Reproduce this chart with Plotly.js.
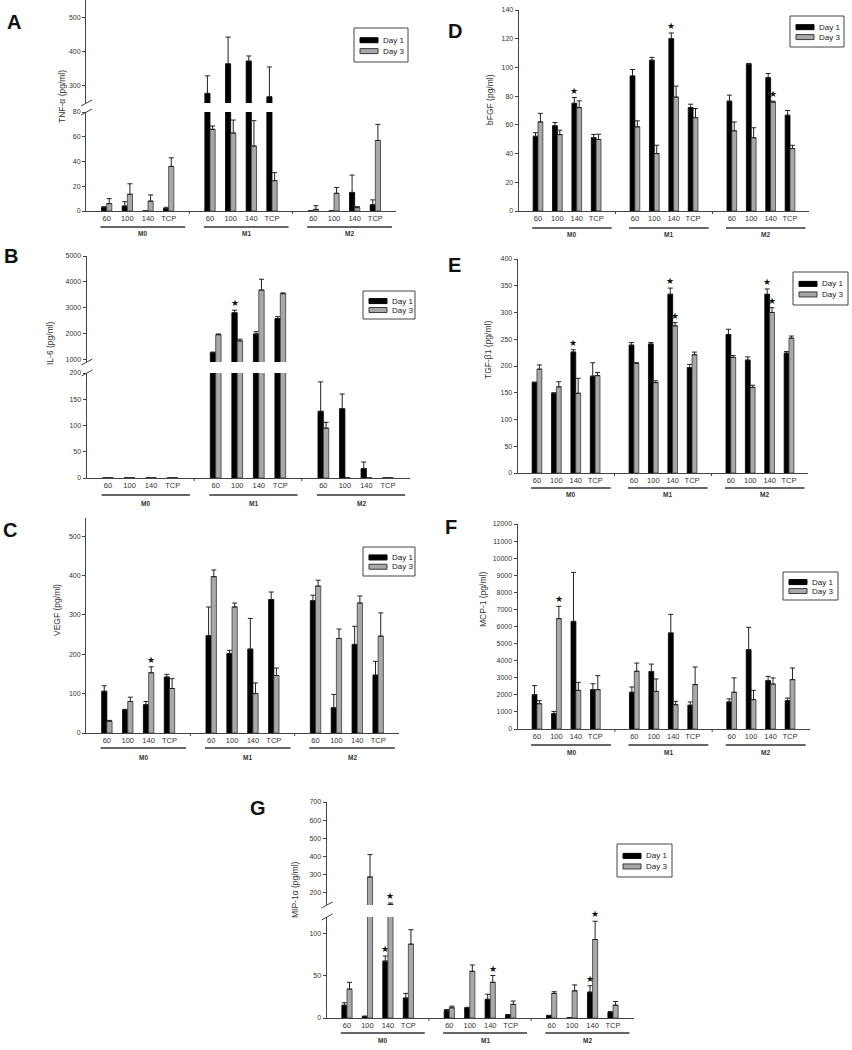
<!DOCTYPE html>
<html><head><meta charset="utf-8">
<script src="https://cdn.plot.ly/plotly-3.0.1.min.js"></script>
<style>body{margin:0;background:#fff}#chart{width:852px;height:1050px}</style>
</head><body><div id="chart"></div>
<script>
const categories = ['60','100','140','TCP'];
const groups = ['M0','M1','M2'];
const seriesNames = ['Day 1','Day 3'];

// A: TNF-alpha
const tnfDay1    = [3, 4, 0, 2,   278, 364, 372, 268,   0, 0, 15, 5];
const tnfDay1Err = [0.5, 3.5, 0, 1,   51, 78, 15, 87,   0, 0, 14, 4];
const tnfDay3    = [6, 13.5, 8, 36,   66, 63, 52.5, 24.5,   1.3, 14.3, 2.7, 57];
const tnfDay3Err = [4, 8.5, 5, 7,   2.7, 10.5, 20.5, 6.5,   3, 4.7, 0.8, 13];
const tnfStars   = [];

// B: IL-6
const il6Day1    = [0, 0, 0, 0,   1260, 2800, 1980, 2580,   127, 132, 18, 0];
const il6Day1Err = [0, 0, 0, 0,   20, 100, 90, 70,   56, 28, 12.5, 0];
const il6Day3    = [0, 0, 0, 0,   1950, 1710, 3680, 3540,   95, 0, 0, 0];
const il6Day3Err = [0, 0, 0, 0,   30, 70, 420, 30,   11, 0, 0, 0];
const il6Stars   = [[0, 5]];

// C: VEGF
const vegfDay1    = [106, 59, 72, 142,   247, 202, 213, 339,   336, 64, 225, 147];
const vegfDay1Err = [14, 1, 8, 7,   73, 8, 78, 19,   14, 34, 46, 35];
const vegfDay3    = [30, 80, 153, 113,   397, 320, 100, 146,   373, 240, 330, 246];
const vegfDay3Err = [2, 11, 15, 25,   17, 10, 27, 19,   15, 24, 18, 59];
const vegfStars   = [[1, 2]];

// D: bFGF
const bfgfDay1    = [52, 59.3, 75, 51,   94, 105, 120, 72,   76.5, 102.3, 92.8, 66.7];
const bfgfDay1Err = [2.6, 2.3, 4, 2.3,   4.6, 2, 4, 2.4,   4.2, 0.5, 3, 3.3];
const bfgfDay3    = [62, 53.2, 72, 49.8,   58.6, 40, 79.3, 65,   55.8, 51, 75.8, 43.5];
const bfgfDay3Err = [6, 3.1, 4.7, 3.7,   4.2, 5.8, 7.7, 6.4,   6.2, 7, 0.7, 2.3];
const bfgfStars   = [[0, 2], [0, 6], [1, 10]];

// E: TGF-beta1
const tgfDay1    = [169, 149, 226, 181,   239, 241, 334, 197,   259, 211, 334, 224];
const tgfDay1Err = [1, 1, 4.4, 25,   4.7, 3, 11.6, 6,   9.7, 6, 10, 3];
const tgfDay3    = [194, 161, 149, 182,   205, 169, 275, 221,   216, 160, 300, 252];
const tgfDay3Err = [8, 9.6, 28, 6,   1, 3.5, 6, 5,   3.4, 4, 9, 4];
const tgfStars   = [[0, 2], [0, 6], [1, 6], [0, 10], [1, 10]];

// F: MCP-1
const mcpDay1    = [2010, 900, 6300, 2300,   2150, 3360, 5620, 1390,   1580, 4640, 2830, 1660];
const mcpDay1Err = [530, 130, 2870, 350,   310, 440, 1090, 190,   180, 1310, 250, 150];
const mcpDay3    = [1480, 6460, 2260, 2300,   3380, 2200, 1420, 2600,   2150, 1720, 2630, 2890];
const mcpDay3Err = [180, 720, 470, 820,   480, 730, 200, 1030,   840, 540, 360, 680];
const mcpStars   = [[1, 1]];

// G: MIP-1alpha
const mipDay1    = [15, 2, 67, 23.5,   9, 12, 22, 4,   3, 0.5, 30.5, 7];
const mipDay1Err = [3, 0, 6, 5.5,   1, 0.5, 6, 0,   0, 0, 7.5, 0.5];
const mipDay3    = [34, 285, 133, 87,   12, 55, 42, 16,   29, 32, 92.5, 15];
const mipDay3Err = [8, 124, 8, 17,   2, 7.5, 8, 4,   2, 7, 21.5, 4.5];
const mipStars   = [[0, 2], [1, 2], [1, 6], [0, 10], [1, 10]];

const W = 852, H = 1050;
const px = v => v / W, py = v => 1 - v / H;
const FONT = 'Liberation Sans, Arial, sans-serif';
const FILL = ['#000', '#a8a8a8'], EDGE = ['#000', '#3a3a3a'];

const slotX = [], slotLabels = [];
groups.forEach((g, gi) => categories.forEach((c, ci) => { slotX.push(gi * 5 + ci); slotLabels.push(c); }));

const panels = [
  {letter:'A', title:'TNF-α (pg/ml)', d1:tnfDay1, e1:tnfDay1Err, d3:tnfDay3, e3:tnfDay3Err, stars:tnfStars,
   xDom:[86,396], low:{dom:[112,211], range:[0,80], ticks:[0,20,40,60,80]}, up:{dom:[0,103], range:[250,550], ticks:[300,400,500]},
   letterPos:[14,22], titlePos:[62,96], legendBox:[354,28,54,34], lineY:227, labelY:233},
  {letter:'B', title:'IL-6 (pg/ml)', d1:il6Day1, e1:il6Day1Err, d3:il6Day3, e3:il6Day3Err, stars:il6Stars,
   xDom:[86.5,409.5], low:{dom:[373,478], range:[0,200], ticks:[0,50,100,150,200]}, up:{dom:[256,362], range:[895,5000], ticks:[1000,2000,3000,4000,5000]},
   letterPos:[11,256], titlePos:[50,343], legendBox:[363,291,52,28], lineY:495, labelY:503},
  {letter:'C', title:'VEGF (pg/ml)', d1:vegfDay1, e1:vegfDay1Err, d3:vegfDay3, e3:vegfDay3Err, stars:vegfStars,
   xDom:[86,399], low:{dom:[518,733], range:[0,546], ticks:[0,100,200,300,400,500]},
   letterPos:[10,530], titlePos:[57,610], legendBox:[363,547,52,29], lineY:748, labelY:757},
  {letter:'D', title:'bFGF (pg/ml)', d1:bfgfDay1, e1:bfgfDay1Err, d3:bfgfDay3, e3:bfgfDay3Err, stars:bfgfStars,
   xDom:[518.6,809.4], low:{dom:[10,211], range:[0,140], ticks:[0,20,40,60,80,100,120,140]},
   letterPos:[455,31], titlePos:[490,100], legendBox:[790,16,54,31], lineY:228, labelY:234},
  {letter:'E', title:'TGF-β1 (pg/ml)', d1:tgfDay1, e1:tgfDay1Err, d3:tgfDay3, e3:tgfDay3Err, stars:tgfStars,
   xDom:[517.6,808.4], low:{dom:[259,473], range:[0,400], ticks:[0,50,100,150,200,250,300,350,400]},
   letterPos:[454,265], titlePos:[488,350], legendBox:[793,272,55,33], lineY:488, labelY:494},
  {letter:'F', title:'MCP-1 (pg/ml)', d1:mcpDay1, e1:mcpDay1Err, d3:mcpDay3, e3:mcpDay3Err, stars:mcpStars,
   xDom:[517.5,809.5], low:{dom:[524,729], range:[0,12000], ticks:[0,1000,2000,3000,4000,5000,6000,7000,8000,9000,10000,11000,12000]},
   letterPos:[451,527], titlePos:[483,600], legendBox:[783,572,55,28], lineY:745, labelY:752},
  {letter:'G', title:'MIP-1α (pg/ml)', d1:mipDay1, e1:mipDay1Err, d3:mipDay3, e3:mipDay3Err, stars:mipStars,
   xDom:[326.5,633.5], low:{dom:[917,1018], range:[0,119], ticks:[0,50,100]}, up:{dom:[802,905], range:[130,700], ticks:[200,300,400,500,600,700]},
   letterPos:[258,808], titlePos:[295,890], legendBox:[617,844,55,33], lineY:1033, labelY:1040}
];

const traces = [], shapes = [], annotations = [];
const layout = {
  width: W, height: H, autosize: false,
  margin: {l:0, r:0, t:0, b:0},
  paper_bgcolor: '#fff', plot_bgcolor: 'rgba(0,0,0,0)',
  barmode: 'group', bargap: 0.5, bargroupgap: 0, showlegend: false,
  font: {family: FONT, color: '#333', size: 8},
  shapes: shapes, annotations: annotations
};

let yN = 1;
panels.forEach((p, pi) => {
  const xid = pi === 0 ? 'x' : 'x' + (pi + 1);
  const xkey = pi === 0 ? 'xaxis' : 'xaxis' + (pi + 1);
  const segs = p.up ? [p.low, p.up] : [p.low];
  const yids = segs.map(() => { const id = yN === 1 ? 'y' : 'y' + yN; yN++; return id; });

  layout[xkey] = {
    domain: [px(p.xDom[0]), px(p.xDom[1])], range: [-1, 14], anchor: yids[0],
    tickmode: 'array', tickvals: slotX, ticktext: slotLabels, ticks: '',
    showline: true, linecolor: '#444', linewidth: 1, showgrid: false, zeroline: false,
    tickfont: {size: 7.5, color: '#333', family: FONT}, fixedrange: true
  };

  segs.forEach((s, si) => {
    const yid = yids[si];
    const ykey = yid === 'y' ? 'yaxis' : 'yaxis' + yid.slice(1);
    layout[ykey] = {
      domain: [py(s.dom[1]), py(s.dom[0])], range: s.range, anchor: xid,
      tickmode: 'array', tickvals: s.ticks, tickformat: 'd', ticks: 'outside', ticklen: 3,
      tickcolor: '#444', showline: true, linecolor: '#444', linewidth: 1,
      showgrid: false, zeroline: false, tickfont: {size: 7, color: '#333', family: FONT}, fixedrange: true
    };
    [[p.d1, p.e1, 0], [p.d3, p.e3, 1]].forEach(([v, e, k]) => {
      traces.push({
        type: 'bar', x: slotX, y: v, xaxis: xid, yaxis: yid,
        name: seriesNames[k], offsetgroup: String(k),
        marker: {color: FILL[k], line: {color: EDGE[k], width: 0.8}},
        error_y: {type: 'data', symmetric: false,
                  array: e.map((d, i) => (d === 0 && v[i] === 0) ? NaN : d),
                  arrayminus: e.map(() => 0),
                  color: '#222', thickness: 1, width: 2.5},
        hoverinfo: 'skip'
      });
    });
  });

  // custom legend box (Day 1 / Day 3)
  const [lx, ly, lw, lh] = p.legendBox;
  shapes.push({type: 'rect', xref: 'paper', yref: 'paper', x0: px(lx), x1: px(lx + lw), y0: py(ly), y1: py(ly + lh),
    line: {color: '#444', width: 1}, fillcolor: '#fff'});
  seriesNames.forEach((nm, k) => {
    const rowY = ly + lh * (k === 0 ? 0.36 : 0.68);
    shapes.push({type: 'rect', xref: 'paper', yref: 'paper', x0: px(lx + 6), x1: px(lx + 24),
      y0: py(rowY + 2.5), y1: py(rowY - 2.5), line: {color: EDGE[k], width: 1}, fillcolor: FILL[k]});
    annotations.push({xref: 'paper', yref: 'paper', x: px(lx + 27), y: py(rowY), text: nm, showarrow: false,
      xanchor: 'left', yanchor: 'middle', font: {size: 8, color: '#222', family: FONT}});
  });

  // stars
  p.stars.forEach(([k, idx]) => {
    const vals = k ? p.d3 : p.d1, errs = k ? p.e3 : p.e1;
    const top = vals[idx] + errs[idx];
    const yid = (p.up && top > p.low.range[1]) ? yids[1] : yids[0];
    annotations.push({xref: xid, yref: yid, x: slotX[idx] + (k ? 0.125 : -0.125), y: top,
      text: '★', showarrow: false, yanchor: 'bottom', yshift: 0, font: {size: 9, color: '#111'}});
  });

  // group underlines and labels
  groups.forEach((g, gi) => {
    shapes.push({type: 'line', xref: xid, yref: 'paper', x0: gi * 5 - 0.3, x1: gi * 5 + 3.8,
      y0: py(p.lineY), y1: py(p.lineY), line: {color: '#333', width: 1.5}});
    annotations.push({xref: xid, yref: 'paper', x: gi * 5 + 1.75, y: py(p.labelY), text: '<b>' + g + '</b>',
      showarrow: false, yanchor: 'middle', font: {size: 6.5, color: '#333', family: FONT}});
  });
  // small separator ticks between groups
  [4, 9].forEach(xv => {
    const yb = p.low.dom[1];
    shapes.push({type: 'line', xref: xid, yref: 'paper', x0: xv, x1: xv, y0: py(yb), y1: py(yb + 3),
      line: {color: '#444', width: 1}});
  });
  // axis break slashes
  if (p.up) {
    const ax = p.xDom[0];
    [p.up.dom[1], p.low.dom[0]].forEach(yc => {
      shapes.push({type: 'line', xref: 'paper', yref: 'paper', x0: px(ax - 5), x1: px(ax + 6),
        y0: py(yc + 3), y1: py(yc - 3), line: {color: '#444', width: 1}});
    });
  }
  // panel letter
  annotations.push({xref: 'paper', yref: 'paper', x: px(p.letterPos[0]), y: py(p.letterPos[1]),
    text: '<b>' + p.letter + '</b>', showarrow: false, xanchor: 'center', yanchor: 'middle',
    font: {size: 20, color: '#111', family: FONT}});
  // y title
  annotations.push({xref: 'paper', yref: 'paper', x: px(p.titlePos[0]), y: py(p.titlePos[1]),
    text: p.title, textangle: -90, showarrow: false, xanchor: 'center', yanchor: 'middle',
    font: {size: 8.5, color: '#333', family: FONT}});
});

Plotly.newPlot('chart', traces, layout, {staticPlot: true, displayModeBar: false});
</script>
</body></html>
